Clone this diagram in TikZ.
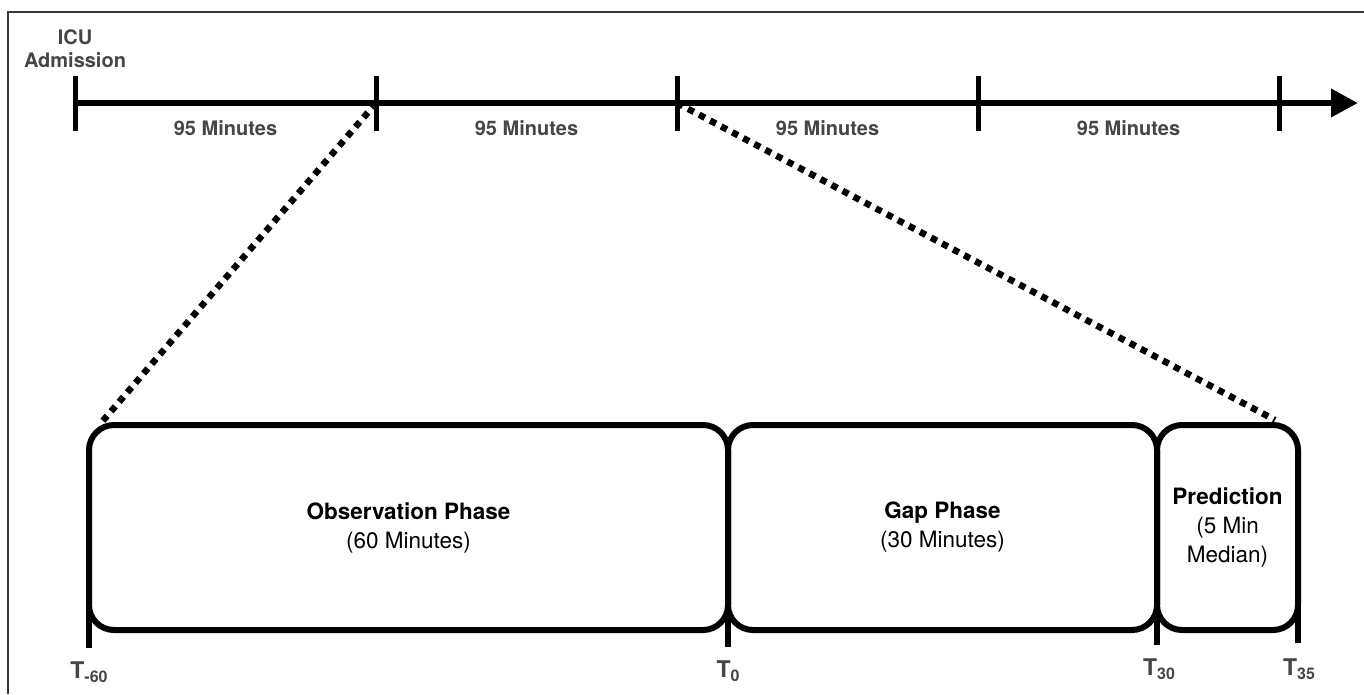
\documentclass[tikz,border=0pt]{standalone}
\usepackage{fontspec}
\setmainfont{TeX Gyre Heros}
\usetikzlibrary{arrows.meta}
\definecolor{labelgray}{RGB}{70,70,70}
\definecolor{framegray}{RGB}{55,55,55}
\newcommand\tsubx[1]{{\fontsize{16}{16}\selectfont\raisebox{-4.5pt}{#1}}}
\begin{document}
\begin{tikzpicture}[x=1pt,y=-1pt,
  ticksty/.style={line width=5pt},
  axissty/.style={line width=6.5pt},
  zoomline/.style={line width=6.5pt, dash pattern=on 6.5pt off 6pt},
  phase/.style={draw, line width=6pt, rounded corners=25pt, minimum height=205pt,
    inner sep=0pt, outer sep=0pt, align=center, font=\fontsize{22.5}{29}\selectfont},
  durlabel/.style={text=labelgray, font=\bfseries\fontsize{20}{23}\selectfont},
  tlabel/.style={text=labelgray, font=\bfseries\fontsize{23}{26}\selectfont, anchor=base},
  stem/.style={line width=6pt}]
\useasboundingbox (0,0) rectangle (1364,694);
\fill[white] (0,0) rectangle (1364,694);
% frame
\draw[framegray, line width=2pt] (8,694) -- (8,12) -- (1364,12);
% timeline
\coordinate (a0) at (75,103);
\coordinate (a1) at (1358,103);
\draw[axissty, -{Triangle[length=27pt,width=27pt]}] (a0) -- (a1);
\foreach \x in {75,376,677,978,1279} \draw[ticksty] (\x,76) -- (\x,131);
\node[durlabel, align=center] (icu) at (75,48.5) {ICU\\Admission};
\node[durlabel] (d1) at (225.5,128) {95 Minutes};
\node[durlabel] (d2) at (526.5,128) {95 Minutes};
\node[durlabel] (d3) at (827.5,128) {95 Minutes};
\node[durlabel] (d4) at (1128.5,128) {95 Minutes};
% zoom lines
\coordinate (z1a) at (376,103);
\coordinate (z1b) at (101,423);
\coordinate (z2a) at (677,103);
\coordinate (z2b) at (1275,420);
\draw[zoomline] (z1a) -- (z1b);
\draw[zoomline] (z2a) -- (z2b);
% phases
\node[phase, minimum width=639pt] (obs) at (408.5,527.5) {\textbf{Observation Phase}\\(60 Minutes)};
\node[phase, minimum width=429pt] (gap) at (942.5,527.5) {\textbf{Gap Phase}\\(30 Minutes)};
\node[phase, minimum width=141pt] (pred) at (1227.5,527.5) {\textbf{Prediction}\\(5 Min\\Median)};
% stems
\coordinate (s1) at (89,648);
\coordinate (s2) at (728,647);
\coordinate (s3) at (1157,645);
\coordinate (s4) at (1298,643);
\draw[stem] (obs.west) -- (s1);
\draw[stem] ([yshift=-50pt]obs.east) -- (s2);
\draw[stem] ([yshift=-50pt]gap.east) -- (s3);
\draw[stem] (pred.east) -- (s4);
% T labels
\node[tlabel] (tm60) at (89,678) {T\tsubx{-60}};
\node[tlabel] (t0) at (728,677) {T\tsubx{0}};
\node[tlabel] (t30) at (1159,675) {T\tsubx{30}};
\node[tlabel] (t35) at (1299,675) {T\tsubx{35}};
\end{tikzpicture}
\end{document}
